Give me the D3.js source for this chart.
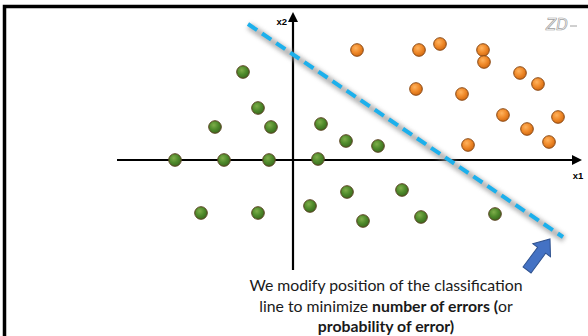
<!DOCTYPE html>
<html><head><meta charset="utf-8">
<script src="https://cdn.jsdelivr.net/npm/d3@7"></script>
<style>html,body{margin:0;padding:0;background:#fff;}svg{display:block;}</style>
</head><body>
<script>
// Data (abstract feature-space units)
const greenX = [-2.5,-1.75,-3.9,-1.1,-5.9,-3.45,-1.2,1.4,2.65,4.25,1.25,-4.6,-1.75,0.85,2.7,3.5,5.45,6.4,10.1];
const greenY = [4.4,2.6,1.65,1.65,0,0,0,1.8,0.95,0.7,0.05,-2.65,-2.65,-2.3,-1.6,-3.05,-1.5,-2.85,-2.7];
const orangeX = [3.2,6.3,7.35,9.5,9.55,11.35,12.25,6.15,8.45,10.5,13.25,11.7,12.8,8.75];
const orangeY = [5.5,5.5,5.8,5.5,4.9,4.35,3.8,3.55,3.3,2.25,2.15,1.55,0.9,0.75];
const lineX = [-2.25,13.5];
const lineY = [6.8,-3.85];
const axisX = [-8.8,14.45];
const axisY = [-5.5,7.4];
const axisLabels = ["x1","x2"];
const captionLines = [
  [["We modify position of the classification",false]],
  [["line to minimize ",false],["number of errors (",true],["or",false]],
  [["probability of error)",true]]
];

const W=588,H=336;
const svg=d3.select("body").append("svg").attr("width",W).attr("height",H);
const defs=svg.append("defs");
function grad(id,light,mid,dark){
  const g=defs.append("radialGradient").attr("id",id).attr("cx","40%").attr("cy","35%").attr("r","65%");
  g.append("stop").attr("offset","0%").attr("stop-color",light);
  g.append("stop").attr("offset","55%").attr("stop-color",mid);
  g.append("stop").attr("offset","100%").attr("stop-color",dark);
}
grad("gG","#7fae4a","#4f8a2b","#3b6a1e");
grad("gO","#ffb35e","#f08a2a","#d26a12");
const f=defs.append("filter").attr("id","sh").attr("x","-20%").attr("y","-20%").attr("width","140%").attr("height","140%");
f.append("feGaussianBlur").attr("stdDeviation",2.2);

const x=d3.scaleLinear().domain(axisX).range([117,582]);
const y=d3.scaleLinear().domain(axisY).range([270,12]);

// frame
svg.append("path").attr("d","M4.5,336 L4.5,6.5 L588,6.5").attr("fill","none").attr("stroke","#000").attr("stroke-width",3.5);

// axes
svg.append("line").attr("x1",x(axisX[0])).attr("x2",x(axisX[1])-6).attr("y1",y(0)).attr("y2",y(0)).attr("stroke","#000").attr("stroke-width",2.2);
svg.append("path").attr("d",`M${x(axisX[1])},${y(0)} l-10,-5 l0,10 z`).attr("fill","#000");
svg.append("line").attr("x1",x(0)).attr("x2",x(0)).attr("y1",y(axisY[0])).attr("y2",y(axisY[1])+6).attr("stroke","#000").attr("stroke-width",2.2);
svg.append("path").attr("d",`M${x(0)},${y(axisY[1])} l-5,10 l10,0 z`).attr("fill","#000");
svg.append("text").attr("x",x(axisX[1])-4).attr("y",y(0)+19).attr("text-anchor","middle").attr("font-family","Liberation Sans, Arial").attr("font-weight","bold").attr("font-size",9.5).text(axisLabels[0]);
svg.append("text").attr("x",x(0)-6).attr("y",y(axisY[1])+13).attr("text-anchor","end").attr("font-family","Liberation Sans, Arial").attr("font-weight","bold").attr("font-size",9.5).text(axisLabels[1]);

// classification line with shadow
svg.append("line").attr("x1",x(lineX[0])+1).attr("y1",y(lineY[0])+2).attr("x2",x(lineX[1])+1).attr("y2",y(lineY[1])+2)
  .attr("stroke","#9a9a9a").attr("stroke-width",7).attr("opacity",0.7).attr("filter","url(#sh)");
svg.append("line").attr("x1",x(lineX[0])).attr("y1",y(lineY[0])).attr("x2",x(lineX[1])).attr("y2",y(lineY[1]))
  .attr("stroke","#1cb0ec").attr("stroke-width",4).attr("stroke-dasharray","11,6");

// points
function dots(xs,ys,fill,stroke){
  svg.append("g").selectAll("circle").data(xs.map((v,i)=>[v,ys[i]])).join("circle")
    .attr("cx",d=>x(d[0])).attr("cy",d=>y(d[1])).attr("r",6.3)
    .attr("fill",fill).attr("stroke",stroke).attr("stroke-width",1);
}
dots(greenX,greenY,"url(#gG)","#5b4322");
dots(orangeX,orangeY,"url(#gO)","#8a4a16");

// block arrow pointing to line end
const tail=[527,270], tip=[550,239];
const ang=Math.atan2(tip[1]-tail[1],tip[0]-tail[0])*180/Math.PI;
const L=Math.hypot(tip[0]-tail[0],tip[1]-tail[1]);
svg.append("path").attr("transform",`translate(${tail[0]},${tail[1]}) rotate(${ang})`)
  .attr("d",`M0,-5 L${L-14},-5 L${L-14},-11 L${L},0 L${L-14},11 L${L-14},5 L0,5 Z`)
  .attr("fill","#4472c4").attr("stroke","#2f528f").attr("stroke-width",1);

// caption
const cap=svg.append("text").attr("text-anchor","middle").attr("font-family","Lato, 'Open Sans', sans-serif").attr("font-size",15.8).attr("fill","#1a1a1a");
captionLines.forEach((ln,i)=>{
  ln.forEach(([s,b],j)=>{
    const sp=cap.append("tspan").attr("font-weight",b?"bold":"normal").text(s);
    if(j===0) sp.attr("x",386).attr("y",291+i*20.5);
  });
});

// signature
svg.append("text").attr("x",546).attr("y",30).attr("font-family","DejaVu Sans").attr("font-style","italic")
  .attr("font-size",15).attr("fill","none").attr("stroke","#a0a0a0").attr("stroke-width",0.7).text("ZD");
svg.append("line").attr("x1",570).attr("y1",26).attr("x2",577).attr("y2",26).attr("stroke","#a0a0a0").attr("stroke-width",1);
</script>
</body></html>
